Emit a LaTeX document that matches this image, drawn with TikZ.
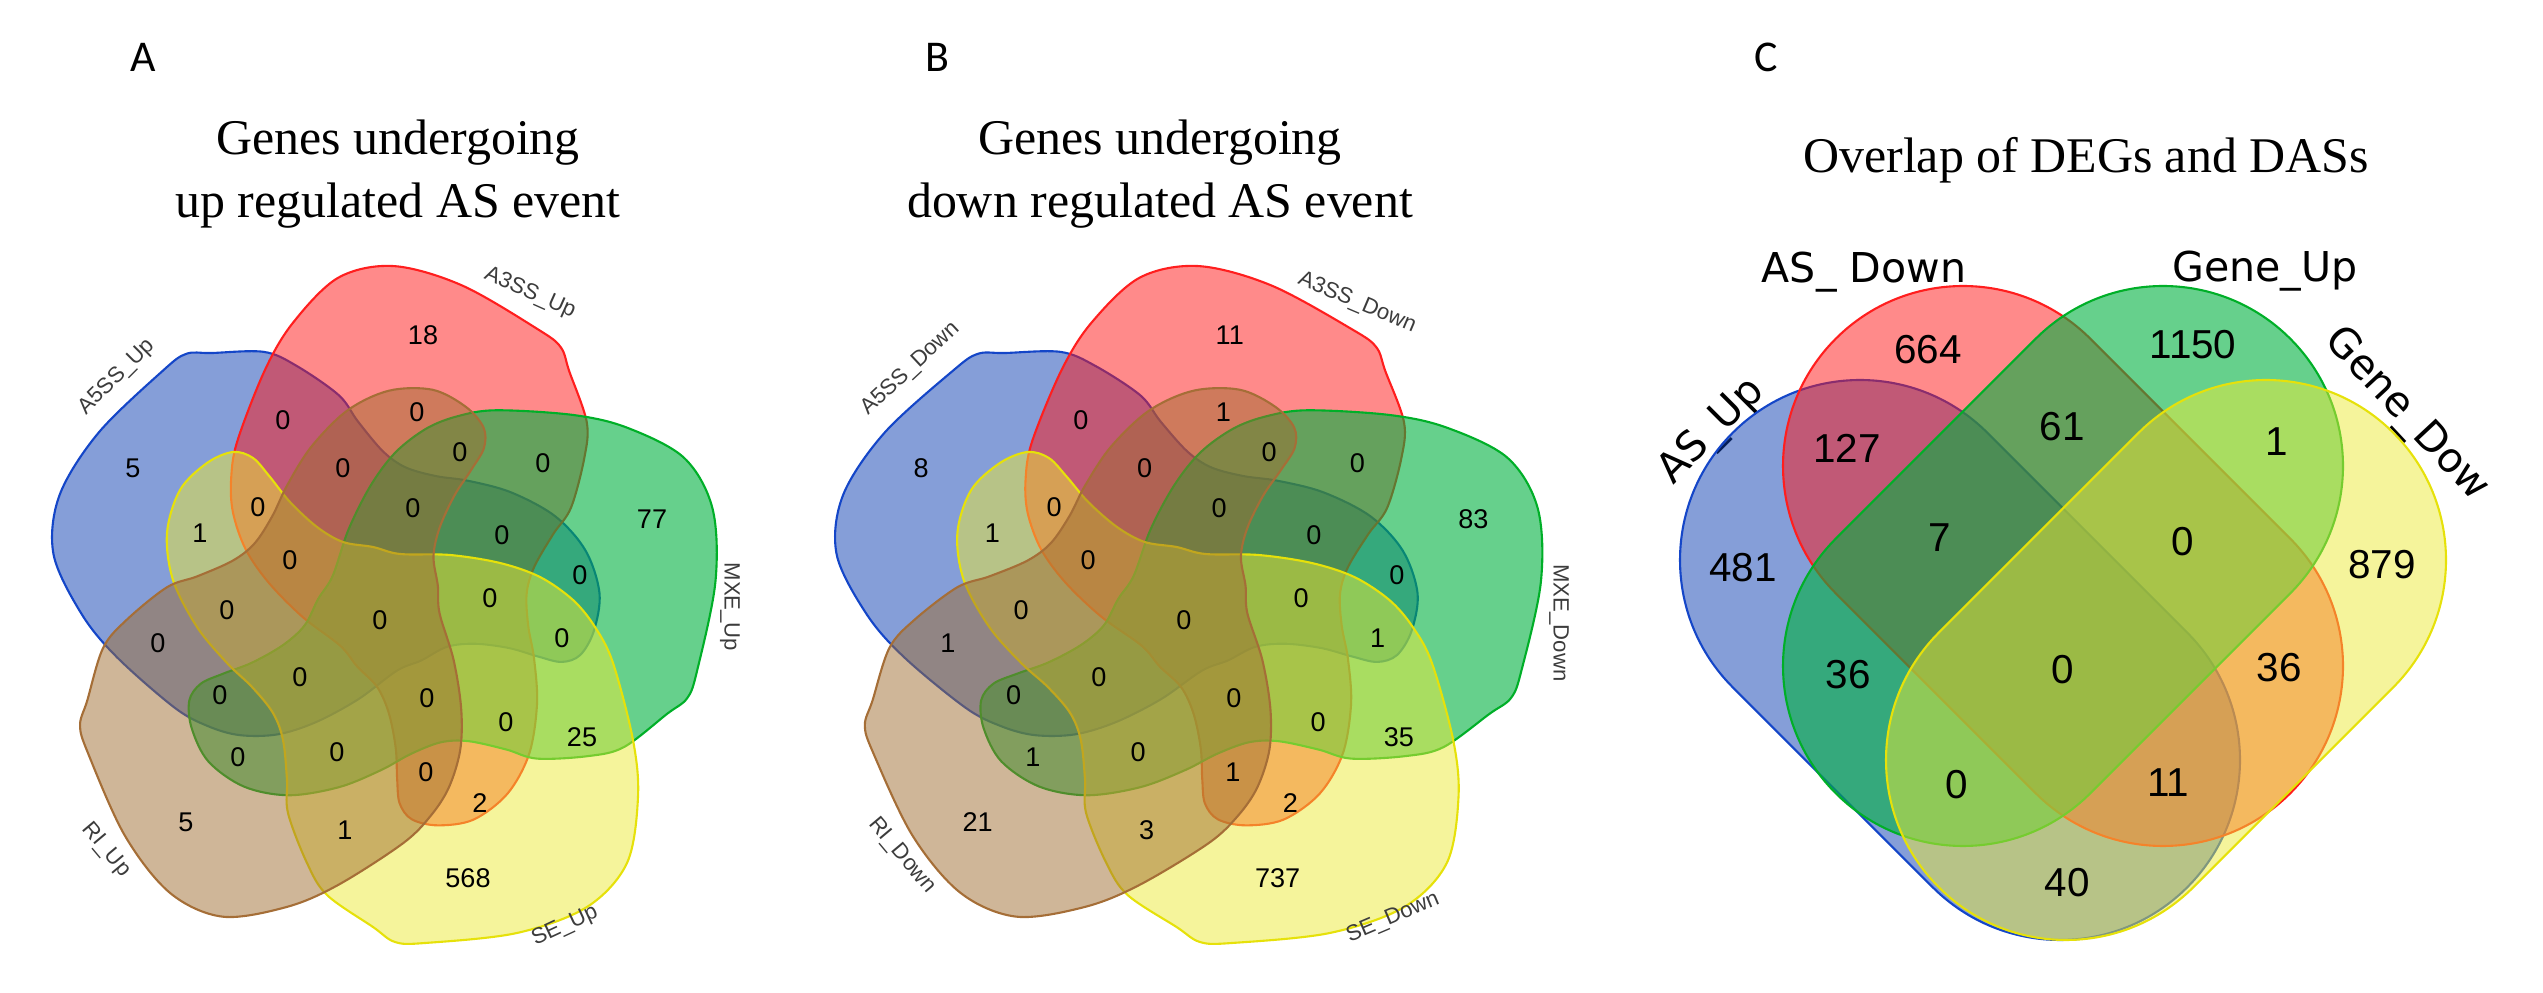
\documentclass[tikz,border=0pt]{standalone}
\usepackage{fontspec}
\setmainfont{Liberation Serif}
\newfontfamily\arialf{Liberation Sans}
\newfontfamily\dejavuf{DejaVu Sans}
\newfontfamily\carlitof{Carlito}
\definecolor{fBlue}{RGB}{11,61,177}
\definecolor{fRed}{RGB}{255,21,21}
\definecolor{fGreen}{RGB}{0,177,63}
\definecolor{fYellow}{RGB}{235,233,55}
\definecolor{fBrown}{RGB}{159,109,49}
\definecolor{lBlue}{RGB}{20,70,200}
\definecolor{lRed}{RGB}{255,30,30}
\definecolor{lGreen}{RGB}{0,175,40}
\definecolor{lYellow}{RGB}{230,225,10}
\definecolor{lBrown}{RGB}{165,110,55}
\definecolor{labgray}{RGB}{60,60,60}
% one petal of the 5-set diagram: #1 rotation, #2 style, #3 extra transform
\newcommand\vennpetal[3]{%
  \begin{scope}[#3, rotate=#1]
  \filldraw[#2] plot[smooth cycle, tension=0.55] coordinates {
   (-147,-160) (-127,-154) (-110,-135) (-90,-110) (-63,-85) (-37,-70) (-7,-65)
   (20,-58) (70,-57) (120,-49) (160,-35) (193,-12) (215,15) (233,51) (253,128)
   (258,185) (247,251) (207,295) (137,321) (45,331) (15,330) (-7,315) (-53,283)
   (-73,251) (-92,201) (-93,168) (-97,128) (-107,101) (-128,75) (-153,51)
   (-183,15) (-207,-32) (-213,-79) (-200,-122) (-173,-149)};
  \end{scope}}
\newcommand\fivesets{%
  \vennpetal{-144}{setblue}{xscale=0.94}
  \vennpetal{144}{setred}{xshift=0.8mm, xscale=0.95, yscale=0.96}
  \vennpetal{72}{setgreen}{xscale=0.965, yscale=0.98}
  \vennpetal{0}{setyellow}{scale=1}
  \vennpetal{-72}{setbrown}{xscale=0.97, yscale=0.975}}
% stadium shape of the 4-set diagram
\newcommand\stadiumpath{(-141.4,-180) -- (141.4,-180) arc[start angle=-90, end angle=90, radius=180]
  -- (-141.4,180) arc[start angle=90, end angle=270, radius=180] -- cycle}
\begin{document}
\begin{tikzpicture}[x=0.1mm, y=-0.1mm,
  setblue/.style={fill=fBlue, fill opacity=0.5, draw=lBlue, line width=0.6pt},
  setred/.style={fill=fRed, fill opacity=0.5, draw=lRed, line width=0.6pt},
  setgreen/.style={fill=fGreen, fill opacity=0.6, draw=lGreen, line width=0.6pt},
  setyellow/.style={fill=fYellow, fill opacity=0.5, draw=lYellow, line width=0.6pt},
  setbrown/.style={fill=fBrown, fill opacity=0.5, draw=lBrown, line width=0.6pt},
  num/.style={font=\arialf\fontsize{7.7pt}{9pt}\selectfont, inner sep=0pt},
  catlab/.style={font=\arialf\fontsize{6.3pt}{7.5pt}\selectfont, text=labgray, inner sep=0pt},
  title/.style={font=\fontsize{14.2pt}{17pt}\selectfont, anchor=base, inner sep=0pt},
  panel/.style={font=\carlitof\fontsize{12.5pt}{15pt}\selectfont, anchor=base, inner sep=0pt},
  cnum/.style={font=\arialf\fontsize{11.5pt}{14pt}\selectfont, inner sep=0pt},
  clab/.style={font=\dejavuf\fontsize{11.7pt}{14pt}\selectfont, inner sep=0pt},
]
\useasboundingbox (0,0) rectangle (2543,993);

% ---------------- Panel A ----------------
\node[panel] (pA) at (143,72) {A};
\node[title] (tA1) at (398,155) {Genes undergoing};
\node[title] (tA2) at (398,218) {up regulated AS event};
\begin{scope}[shift={(380,612)}]
  \fivesets
\end{scope}
\node[catlab, rotate=45] (lA1) at (117,377) {A5SS\_Up};
\node[catlab, rotate=-24] (lA2) at (530,293) {A3SS\_Up};
\node[catlab, rotate=-90] (lA3) at (730,607) {MXE\_Up};
\node[catlab, rotate=25] (lA4) at (565,926) {SE\_Up};
\node[catlab, rotate=-50] (lA5) at (106,850) {RI\_Up};
\node[num] (a1) at (133,468) {5};
\node[num] (a2) at (423,335) {18};
\node[num] (a3) at (652,519) {77};
\node[num] (a4) at (468,878) {568};
\node[num] (a5) at (186,822) {5};
\node[num] (a6) at (283,420) {0};
\node[num] (a7) at (417,412) {0};
\node[num] (a8) at (343,468) {0};
\node[num] (a9) at (460,452) {0};
\node[num] (a10) at (543,463) {0};
\node[num] (a11) at (200,533) {1};
\node[num] (a12) at (258,507) {0};
\node[num] (a13) at (413,508) {0};
\node[num] (a14) at (502,535) {0};
\node[num] (a15) at (580,575) {0};
\node[num] (a16) at (290,560) {0};
\node[num] (a17) at (227,610) {0};
\node[num] (a18) at (380,620) {0};
\node[num] (a19) at (490,598) {0};
\node[num] (a20) at (562,638) {0};
\node[num] (a21) at (158,643) {0};
\node[num] (a22) at (300,677) {0};
\node[num] (a23) at (220,695) {0};
\node[num] (a24) at (427,698) {0};
\node[num] (a25) at (238,757) {0};
\node[num] (a26) at (337,752) {0};
\node[num] (a27) at (506,722) {0};
\node[num] (a28) at (582,737) {25};
\node[num] (a29) at (426,772) {0};
\node[num] (a30) at (480,803) {2};
\node[num] (a31) at (345,830) {1};

% ---------------- Panel B ----------------
\node[panel] (pB) at (937,72) {B};
\node[title] (tB1) at (1160,155) {Genes undergoing};
\node[title] (tB2) at (1160,218) {down regulated AS event};
\begin{scope}[shift={(1184,612)}, xscale=1.064]
  \fivesets
\end{scope}
\node[catlab, rotate=43] (lB1) at (911,369) {A5SS\_Down};
\node[catlab, rotate=-23] (lB2) at (1357,303) {A3SS\_Down};
\node[catlab, rotate=-90] (lB3) at (1559,623) {MXE\_Down};
\node[catlab, rotate=23] (lB4) at (1393,918) {SE\_Down};
\node[catlab, rotate=-50] (lB5) at (902,856) {RI\_Down};
\begin{scope}[shift={(1184,0)}, xscale=1.064, shift={(-380,0)}]
\node[num] (b1) at (133,468) {8};
\node[num] (b2) at (423,335) {11};
\node[num] (b3) at (652,519) {83};
\node[num] (b4) at (468,878) {737};
\node[num] (b5) at (186,822) {21};
\node[num] (b6) at (283,420) {0};
\node[num] (b7) at (417,412) {1};
\node[num] (b8) at (343,468) {0};
\node[num] (b9) at (460,452) {0};
\node[num] (b10) at (543,463) {0};
\node[num] (b11) at (200,533) {1};
\node[num] (b12) at (258,507) {0};
\node[num] (b13) at (413,508) {0};
\node[num] (b14) at (502,535) {0};
\node[num] (b15) at (580,575) {0};
\node[num] (b16) at (290,560) {0};
\node[num] (b17) at (227,610) {0};
\node[num] (b18) at (380,620) {0};
\node[num] (b19) at (490,598) {0};
\node[num] (b20) at (562,638) {1};
\node[num] (b21) at (158,643) {1};
\node[num] (b22) at (300,677) {0};
\node[num] (b23) at (220,695) {0};
\node[num] (b24) at (427,698) {0};
\node[num] (b25) at (238,757) {1};
\node[num] (b26) at (337,752) {0};
\node[num] (b27) at (506,722) {0};
\node[num] (b28) at (582,737) {35};
\node[num] (b29) at (426,772) {1};
\node[num] (b30) at (480,803) {2};
\node[num] (b31) at (345,830) {3};
\end{scope}

% ---------------- Panel C ----------------
\node[panel] (pC) at (1766,72) {C};
\node[title] (tC) at (2086,173) {Overlap of DEGs and DASs};
\node[clab, rotate=45] (lC1) at (1712,432) {AS\_Up};
\node[clab, rotate=-47] (lC4) at (2406,415) {Gene\_Dow};
\begin{scope}[shift={(1960,660)}, rotate=-45]
  \filldraw[setblue] \stadiumpath;
\end{scope}
\begin{scope}[shift={(2063,566)}, rotate=-45]
  \filldraw[setred] \stadiumpath;
\end{scope}
\begin{scope}[shift={(2063,566)}, rotate=45]
  \filldraw[setgreen] \stadiumpath;
\end{scope}
\begin{scope}[shift={(2166,660)}, rotate=45]
  \filldraw[setyellow] \stadiumpath;
\end{scope}
\node[clab, anchor=base] (lC2) at (1864,283) {AS\_ Down};
\node[clab, anchor=base] (lC3) at (2265,282) {Gene\_Up};
\node[cnum] (c1) at (1928,350) {664};
\node[cnum] (c2) at (1847,448) {127};
\node[cnum] (c3) at (1743,568) {481};
\node[cnum] (c4) at (2062,427) {61};
\node[cnum] (c5) at (1940,538) {7};
\node[cnum] (c6) at (2193,345) {1150};
\node[cnum] (c7) at (2277,442) {1};
\node[cnum] (c8) at (2183,542) {0};
\node[cnum] (c9) at (2382,565) {879};
\node[cnum] (c10) at (1848,675) {36};
\node[cnum] (c11) at (2063,670) {0};
\node[cnum] (c12) at (2279,668) {36};
\node[cnum] (c13) at (1957,785) {0};
\node[cnum] (c14) at (2168,783) {11};
\node[cnum] (c15) at (2067,883) {40};
\end{tikzpicture}
\end{document}
